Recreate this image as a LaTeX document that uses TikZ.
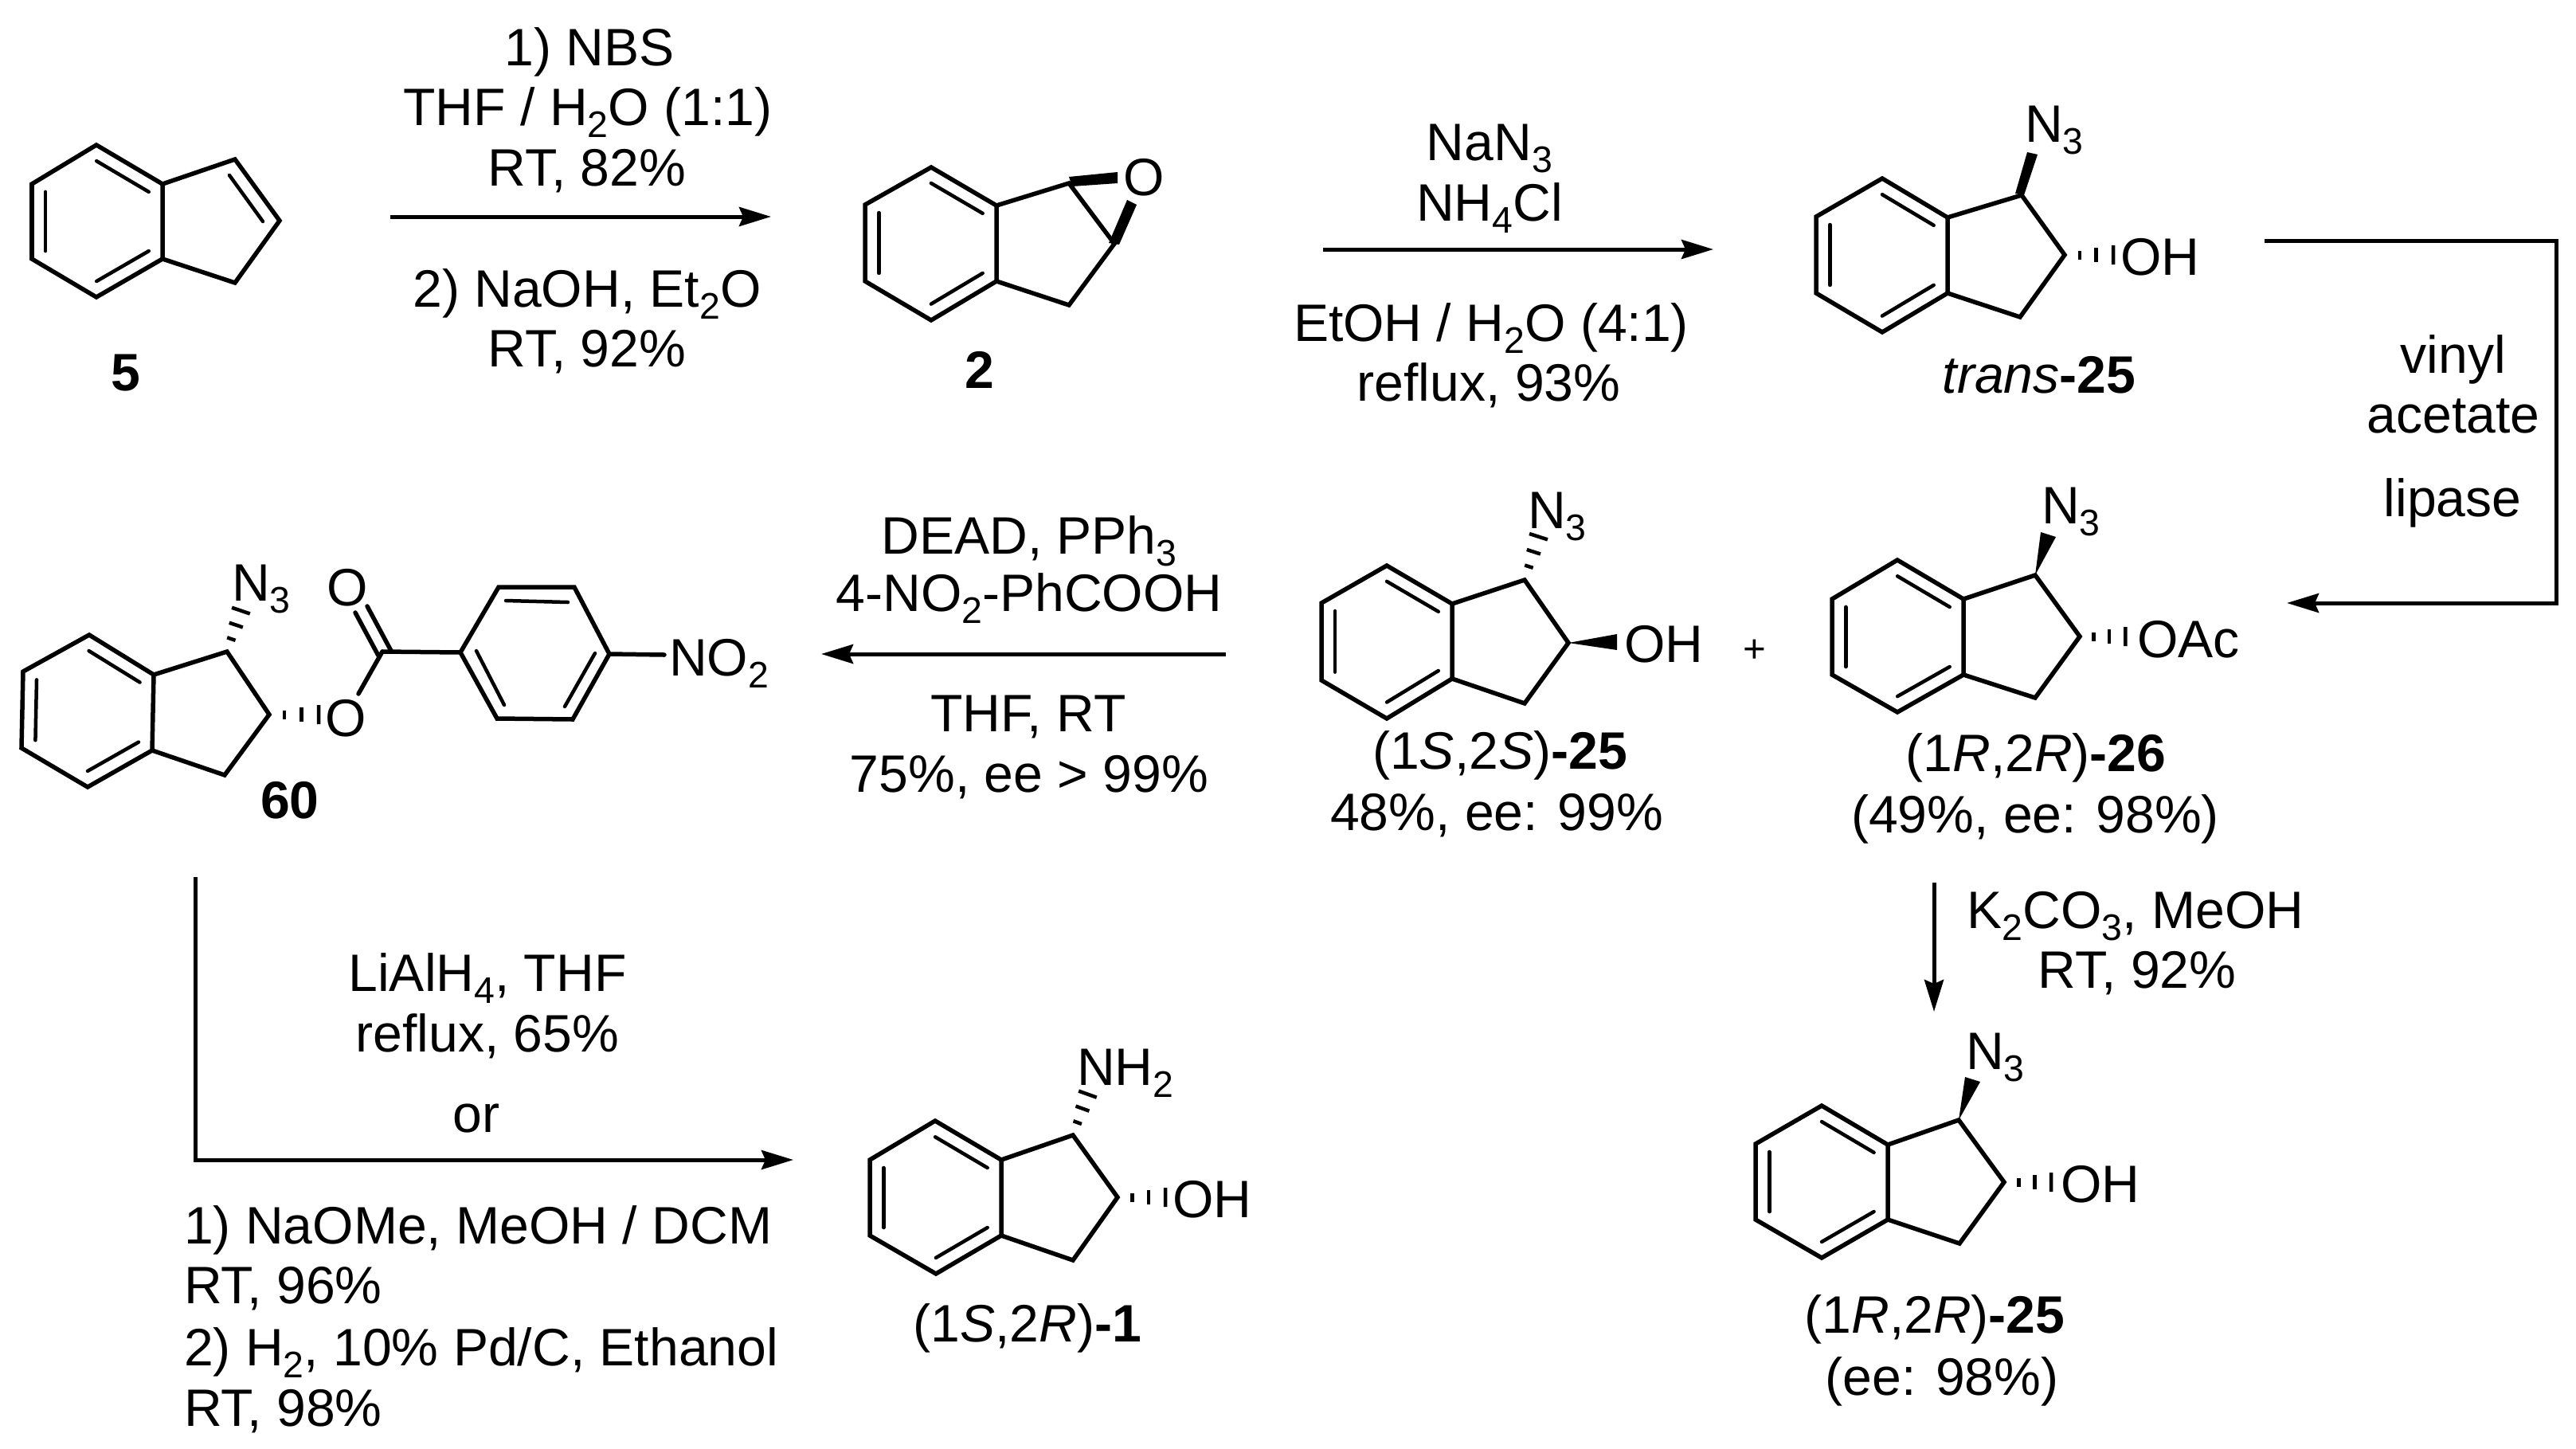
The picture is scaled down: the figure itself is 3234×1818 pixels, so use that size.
\documentclass[tikz,border=0pt]{standalone}
\usepackage{fontspec}
\setmainfont{Liberation Sans}
\usetikzlibrary{calc,arrows.meta}
\newcommand{\ssb}[1]{\raisebox{-0.23em}{\fontsize{13.2}{13.2}\selectfont #1}}
\tikzset{
  txt/.style={anchor=base,inner sep=0pt,outer sep=0pt,font=\fontsize{18.8}{22}\selectfont},
  lft/.style={txt,anchor=base west},
  bond/.style={line width=0.055cm,line join=miter,line cap=round},
  inner/.style={line width=0.045cm,line cap=round},
  hashline/.style={line width=0.045cm},
  rxn/.style={line width=0.05cm,-{Stealth[length=0.4cm,width=0.24cm,inset=0.05cm]}},
}
% indane skeleton: named atoms t,lt,lb,b,rb,rt,c1,c2,c3
\newcommand{\indane}[2]{%
  \foreach \n/\x/\y in {#2}{\coordinate (#1\n) at (\x,\y);}
  \coordinate (#1m) at ($(#1lt)!0.5!(#1rb)$);
  \draw[bond] (#1t)--(#1lt)--(#1lb)--(#1b)--(#1rb)--(#1rt)--cycle;
  \draw[bond] (#1rt)--(#1c1)--(#1c2)--(#1c3)--(#1rb);
  \draw[inner] ($(#1m)!0.79!(#1lt)$)--($(#1m)!0.79!(#1lb)$);
  \draw[inner] ($(#1m)!0.79!(#1t)$)--($(#1m)!0.79!(#1rt)$);
  \draw[inner] ($(#1m)!0.79!(#1b)$)--($(#1m)!0.79!(#1rb)$);
}
\newcommand{\hashbond}[2]{%
  \foreach \t/\w in {0.3/0.055,0.63/0.09,0.97/0.12}{%
    \draw[hashline] ($(#1)!\t!(#2)!\w cm!90:(#2)$) -- ($(#1)!\t!(#2)!\w cm!-90:(#2)$);}
}
\begin{document}
\begin{tikzpicture}[x=0.01cm,y=-0.01cm]
\useasboundingbox (0,0) rectangle (3234,1818);
\fill[white] (0,0) rectangle (3234,1818);

% --- 5
\indane{a}{t/121/182,lt/40/231,lb/40/325,b/121/373,rb/204/325,rt/204/231,c1/295/200,c2/351/277,c3/295/355}
\coordinate (a5a) at (288,220); \coordinate (a5b) at (330,278);
\draw[inner] (a5a)--(a5b);
\node[txt] (l5) at (158,490) {\textbf{5}};

% --- arrow 1
\coordinate (r1s) at (490,272); \coordinate (r1e) at (968,272);
\draw[rxn] (r1s)--(r1e);
\node[txt] (r1a) at (740,82) {1) NBS};
\node[txt] (r1b) at (738,157) {THF / H\ssb{2}O (1:1)};
\node[txt] (r1c) at (737,233) {RT, 82\%};
\node[txt] (r1d) at (737,385) {2) NaOH, Et\ssb{2}O};
\node[txt] (r1f) at (737,460) {RT, 92\%};

% --- 2
\indane{e}{t/1169/210,lt/1086/257,lb/1086/353,b/1169/402,rb/1251/353,rt/1251/258,c1/1342/230,c2/1399/306,c3/1342/383}
\fill (1342,222)--(1346,234)--(1403,230)--(1403,216)--cycle;
\fill (1392,305)--(1405,307)--(1427,257)--(1415,251)--cycle;
\node[txt] (oe) at (1436,245) {O};
\node[txt] (l2) at (1230,487) {\textbf{2}};

% --- arrow 2
\coordinate (r2s) at (1661,313); \coordinate (r2e) at (2151,313);
\draw[rxn] (r2s)--(r2e);
\node[txt] (r2a) at (1870,201) {NaN\ssb{3}};
\node[txt] (r2b) at (1870,277) {NH\ssb{4}Cl};
\node[txt] (r2c) at (1872,428) {EtOH / H\ssb{2}O (4:1)};
\node[txt] (r2d) at (1869,503) {reflux, 93\%};

% --- trans-25
\indane{f}{t/2363/224,lt/2280/272,lb/2280/368,b/2363/417,rb/2445/368,rt/2445/273,c1/2538/245,c2/2592/320,c3/2536/398}
\fill (2530,243)--(2541,245)--(2558,194)--(2545,191)--cycle;
\coordinate (fh) at (2655,320);
\hashbond{fc2}{fh}
\node[lft] (fn) at (2542,178) {N\ssb{3}};
\node[lft] (fo) at (2662,345) {OH};
\node[txt] (lf) at (2560,493) {\textit{trans}\textbf{-25}};

% --- connector to 26
\coordinate (r3s) at (2843,302); \coordinate (r3c) at (3209,302);
\coordinate (r3d) at (3209,757); \coordinate (r3e) at (2871,757);
\draw[rxn,line join=miter] (r3s)--(r3c)--(r3d)--(r3e);
\node[txt] (r3a) at (3080,468) {vinyl};
\node[txt] (r3b) at (3080,543) {acetate};
\node[txt] (r3f) at (3079,648) {lipase};

% --- (1S,2S)-25
\indane{g}{t/1741/710,lt/1659/757,lb/1659/854,b/1741/902,rb/1823/852,rt/1823/758,c1/1914/728,c2/1969/807,c3/1914/883}
\fill (gc2)--(2030,796)--(2030,816)--cycle;
\coordinate (gh) at (1932,672);
\hashbond{gc1}{gh}
\node[lft] (gn) at (1918,663) {N\ssb{3}};
\node[lft] (go) at (2039,831) {OH};
\node[txt] (lg1) at (1883,965) {(1\textit{S},2\textit{S})\textbf{-25}};
\node[txt] (lg2) at (1879,1042) {48\%, ee: 99\%};
\node[txt,font=\fontsize{14}{16}\selectfont] (plus) at (2203,831) {+};

% --- (1R,2R)-26
\indane{h}{t/2382/703,lt/2300/752,lb/2300/847,b/2382/894,rb/2465/847,rt/2465/752,c1/2555/722,c2/2611/799,c3/2555/876}
\fill (hc1)--(2581,674)--(2562,668)--cycle;
\coordinate (hh) at (2670,799);
\hashbond{hc2}{hh}
\node[lft] (hn) at (2563,657) {N\ssb{3}};
\node[lft] (ho) at (2683,825) {OAc};
\node[txt] (lh1) at (2556,968) {(1\textit{R},2\textit{R})\textbf{-26}};
\node[txt] (lh2) at (2555,1045) {(49\%, ee: 98\%)};

% --- arrow DEAD
\coordinate (r4s) at (1539,821); \coordinate (r4e) at (1031,821);
\draw[rxn] (r4s)--(r4e);
\node[txt] (r4a) at (1292,695) {DEAD, PPh\ssb{3}};
\node[txt] (r4b) at (1292,767) {4-NO\ssb{2}-PhCOOH};
\node[txt] (r4c) at (1291,918) {THF, RT};
\node[txt] (r4d) at (1292,994) {75\%, ee > 99\%};

% --- 60
\indane{k}{t/112/797,lt/29/843,lb/27/939,b/110/988,rb/191/942,rt/193/847,c1/285/818,c2/338/897,c3/282/973}
\coordinate (kh1) at (303,765); \coordinate (kh2) at (402,897);
\hashbond{kc1}{kh1}
\hashbond{kc2}{kh2}
\node[lft] (kn) at (291,754) {N\ssb{3}};
\node[txt] (ko1) at (436,760) {O};
\node[txt] (ko2) at (434,924) {O};
\coordinate (kC) at (480,818);
\coordinate (kd1) at (461,761); \coordinate (kd1e) at (491,817);
\coordinate (kd2) at (446,769); \coordinate (kd2e) at (475,823);
\coordinate (kOs) at (450,871);
\draw[bond] (kd1)--(kd1e);
\draw[bond] (kd2)--(kd2e);
\draw[bond] (kOs)--(kC);
\coordinate (p1) at (578,819); \coordinate (p2) at (626,737); \coordinate (p3) at (721,737);
\coordinate (p4) at (765,821); \coordinate (p5) at (719,903); \coordinate (p6) at (624,902);
\draw[bond] (kC)--(p1);
\draw[bond] (p1)--(p2)--(p3)--(p4)--(p5)--(p6)--cycle;
\coordinate (pi1) at (635,754); \coordinate (pi2) at (713,756);
\coordinate (pi3) at (598,817); \coordinate (pi4) at (633,885);
\coordinate (pi5) at (747,820); \coordinate (pi6) at (709,887);
\draw[inner] (pi1)--(pi2);
\draw[inner] (pi3)--(pi4);
\draw[inner] (pi5)--(pi6);
\coordinate (pn) at (834,822);
\draw[bond] (p4)--(pn);
\node[lft] (kno) at (840,848) {NO\ssb{2}};
\node[txt] (l60) at (364,1027) {\textbf{60}};

% --- connector to 1
\coordinate (r5s) at (245,1101); \coordinate (r5c) at (245,1456); \coordinate (r5e) at (996,1456);
\draw[rxn,line join=miter] (r5s)--(r5c)--(r5e);
\node[txt] (r5a) at (612,1244) {LiAlH\ssb{4}, THF};
\node[txt] (r5b) at (612,1320) {reflux, 65\%};
\node[txt] (r5f) at (598,1421) {or};
\node[lft] (r5g) at (231,1561) {1) NaOMe, MeOH / DCM};
\node[lft] (r5h) at (231,1636) {RT, 96\%};
\node[lft] (r5i) at (231,1714) {2) H\ssb{2}, 10\% Pd/C, Ethanol};
\node[lft] (r5j) at (231,1790) {RT, 98\%};

% --- (1S,2R)-1
\indane{m}{t/1174/1407,lt/1092/1456,lb/1092/1551,b/1175/1599,rb/1257/1551,rt/1257/1456,c1/1347/1425,c2/1403/1503,c3/1347/1582}
\coordinate (mh1) at (1366,1372); \coordinate (mh2) at (1465,1503);
\hashbond{mc1}{mh1}
\hashbond{mc2}{mh2}
\node[lft] (mn) at (1352,1362) {NH\ssb{2}};
\node[lft] (mo) at (1472,1528) {OH};
\node[txt] (lm) at (1290,1684) {(1\textit{S},2\textit{R})\textbf{-1}};

% --- arrow K2CO3
\coordinate (r6s) at (2428,1108); \coordinate (r6e) at (2428,1270);
\draw[rxn] (r6s)--(r6e);
\node[txt] (r6a) at (2681,1165) {K\ssb{2}CO\ssb{3}, MeOH};
\node[txt] (r6b) at (2683,1240) {RT, 92\%};

% --- (1R,2R)-25
\indane{q}{t/2287/1388,lt/2204/1436,lb/2204/1531,b/2287/1579,rb/2370/1531,rt/2370/1437,c1/2459/1406,c2/2516/1484,c3/2460/1561}
\fill (qc1)--(2486,1358)--(2467,1352)--cycle;
\coordinate (qh) at (2577,1484);
\hashbond{qc2}{qh}
\node[lft] (qn) at (2468,1342) {N\ssb{3}};
\node[lft] (qo) at (2587,1509) {OH};
\node[txt] (lq1) at (2429,1673) {(1\textit{R},2\textit{R})\textbf{-25}};
\node[txt] (lq2) at (2438,1751) {(ee: 98\%)};
\end{tikzpicture}
\end{document}
